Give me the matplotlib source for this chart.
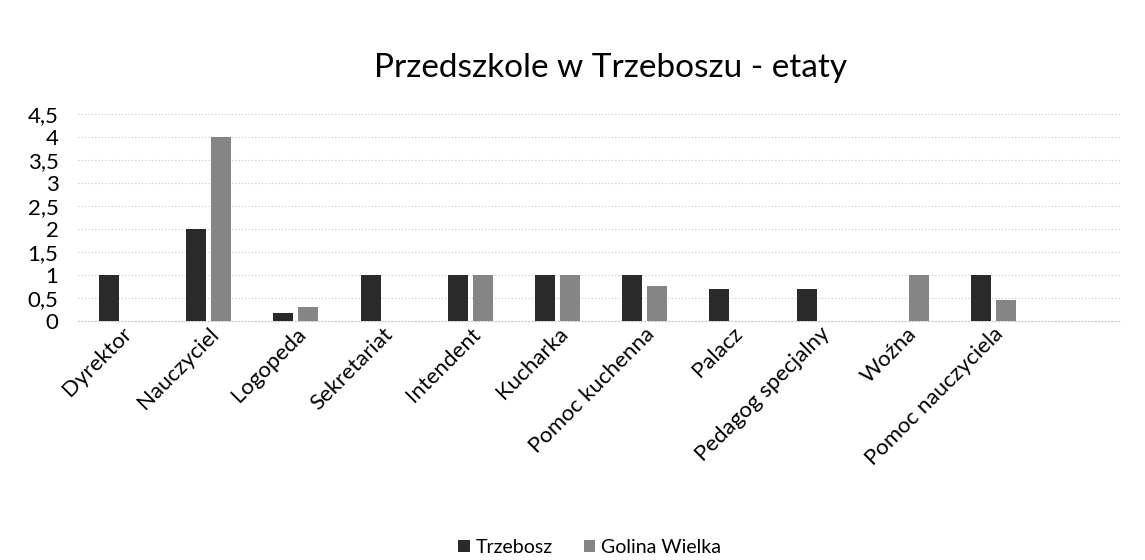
import numpy as np
import matplotlib
matplotlib.use("Agg")
import matplotlib.pyplot as plt

plt.rcParams['font.family'] = ['Lato', 'DejaVu Sans']

categories = ["Dyrektor", "Nauczyciel", "Logopeda", "Sekretariat", "Intendent",
              "Kucharka", "Pomoc kuchenna", "Palacz", "Pedagog specjalny",
              "Woźna", "Pomoc nauczyciela"]
trzebosz = [1, 2, 0.17, 1, 1, 1, 1, 0.7, 0.7, 0, 1]
golina = [0, 4, 0.3, 0, 1, 1, 0.75, 0, 0, 1, 0.45]
yticks = [0, 0.5, 1, 1.5, 2, 2.5, 3, 3.5, 4, 4.5]

fig = plt.figure(figsize=(11.45, 5.6), dpi=100)
ax = fig.add_axes([0.068, 0.427, 0.91, 0.369])

x = np.arange(len(categories))
w = 0.23
ax.bar(x - 0.142, trzebosz, w, color="#2a2a2a", label="Trzebosz", zorder=3)
ax.bar(x + 0.142, golina, w, color="#858585", label="Golina Wielka", zorder=3)

ax.set_xlim(-0.5, 11.45)
ax.set_ylim(0, 4.5)
ax.set_yticks(yticks)
ax.set_yticklabels([f"{v:g}".replace(".", ",") for v in yticks], fontsize=16)
ax.yaxis.grid(True, color="#c8c8c8", linestyle=(0, (1, 2)), linewidth=0.8, zorder=0)
ax.set_xticks(x)
ax.set_xticklabels(categories, rotation=45, ha="right", rotation_mode="anchor", fontsize=16)
ax.tick_params(axis="y", length=0, pad=14)
ax.tick_params(axis="x", length=0, pad=2)
for s in ["top", "right", "left"]:
    ax.spines[s].set_visible(False)
ax.spines["bottom"].set_color("#c8c8c8")
ax.spines["bottom"].set_linestyle((0, (1, 2)))

fig.text(0.533, 0.878, "Przedszkole w Trzeboszu - etaty", ha="center", va="center", fontsize=24)
fig.legend(loc="center", bbox_to_anchor=(0.515, 0.022), ncol=2, frameon=False, fontsize=14,
           handlelength=0.6, handleheight=0.6, handletextpad=0.3, columnspacing=1.6)

fig.savefig("out.png", dpi=100, facecolor="white")
